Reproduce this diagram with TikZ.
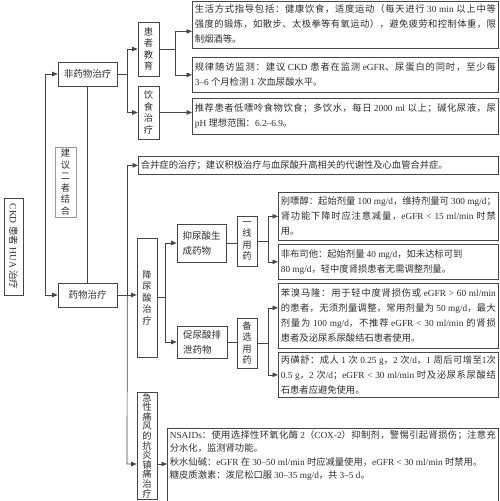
\documentclass[tikz,border=0pt]{standalone}
\usepackage{fontspec}
\setmainfont{Liberation Serif}
\newfontfamily\cjkfont{Noto Sans CJK SC}
\usetikzlibrary{arrows.meta}

\definecolor{linegray}{gray}{0.28}
\definecolor{inkgray}{gray}{0.18}

% Han characters go to the CJK font, everything else stays in Liberation Serif
\newXeTeXintercharclass\hanclass
\newcount\hancount
\def\hanrange#1#2{\hancount=#1\relax
  \loop\XeTeXcharclass\hancount=\hanclass
  \ifnum\hancount<#2\advance\hancount by 1 \repeat}
\hanrange{"3000}{"303F}
\hanrange{"4E00}{"9FFF}
\hanrange{"FF00}{"FFEF}
\XeTeXinterchartoks 0 \hanclass = {\cjkfont}
\XeTeXinterchartoks 4095 \hanclass = {\cjkfont}
\XeTeXinterchartoks \hanclass 0 = {\rmfamily}
\XeTeXinterchartoks 4095 0 = {\rmfamily}
\XeTeXinterchartoks \hanclass \hanclass = {\hskip 0pt plus 0.2em\relax}
\XeTeXinterchartokenstate=1

\begin{document}
\begin{tikzpicture}[x=1pt,y=-1pt,
  box/.style={draw=linegray,line width=0.7pt,text=inkgray},
  textbox/.style={box,anchor=north west,align=justify,inner xsep=2.5pt,inner ysep=2pt,
    font=\fontsize{9.3}{15}\selectfont,execute at begin node={\tolerance=9999\relax}},
  labelbox/.style={box,align=left,inner sep=2pt,font=\fontsize{9.5}{15}\selectfont},
  stackbox/.style={box,align=center,inner sep=1pt,font=\fontsize{9.3}{11.5}\selectfont},
  hintbox/.style={stackbox,draw=black!40,line width=0.5pt},
  link/.style={draw=linegray,line width=0.7pt},
  arr/.style={link,-{Triangle[length=5.5pt,width=4.5pt]}}]
\useasboundingbox (0,0) rectangle (500,501);
\clip (0,0) rectangle (500,501);

\node[stackbox,rotate=-90,minimum width=97pt,minimum height=19pt,
  font=\fontsize{9.5}{11}\selectfont] (root) at (13.5,246.5) {CKD 患者 HUA 治疗};
\node[hintbox,minimum width=21pt,minimum height=70pt] (hint) at (65.5,182) {建\\议\\二\\者\\结\\合};
\node[labelbox,minimum width=59pt,minimum height=24pt] (nondrug) at (87.5,74) {非药物治疗};
\node[labelbox,minimum width=59pt,minimum height=24pt] (drug) at (87.5,295) {药物治疗};

\node[stackbox,minimum width=21pt,minimum height=54pt] (edu) at (148.5,49) {患\\者\\教\\育};
\node[stackbox,minimum width=21pt,minimum height=53pt] (diet) at (148.5,112.5) {饮\\食\\治\\疗};
\node[textbox,text width=301pt,minimum height=47pt] (life) at (192,0.5)
  {生活方式指导包括：健康饮食，适度运动（每天进行 30 min 以上中等\linebreak
   强度的锻炼，如散步、太极拳等有氧运动），避免疲劳和控制体重，限\linebreak
   制烟酒等。};
\node[textbox,text width=301pt,minimum height=35pt] (follow) at (192,57)
  {规律随访监测：建议 CKD 患者在监测 eGFR、尿蛋白的同时，至少每\linebreak
   3–6 个月检测 1 次血尿酸水平。};
\node[textbox,text width=301pt,minimum height=36pt] (food) at (192,98)
  {推荐患者低嘌呤食物饮食；多饮水，每日 2000 ml 以上；碱化尿液，尿\linebreak
   pH 理想范围：6.2–6.9。};

\node[textbox,text width=355pt,minimum height=18pt] (comorb) at (138,156)
  {合并症的治疗；建议积极治疗与血尿酸升高相关的代谢性及心血管合并症。};
\node[stackbox,minimum width=20pt,minimum height=119pt] (ult) at (147,297.5) {降\\尿\\酸\\治\\疗};
\node[stackbox,anchor=north,minimum width=20pt,font=\fontsize{9.3}{9.6}\selectfont] (gout)
  at (147,392) {急\\性\\痛\\风\\的\\抗\\炎\\镇\\痛\\治\\疗};

\node[labelbox,minimum width=49pt,minimum height=38pt] (inhib) at (201.5,243) {抑尿酸生\\成药物};
\node[labelbox,minimum width=50pt,minimum height=32pt] (excr) at (202,342) {促尿酸排\\泄药物};
\node[stackbox,minimum width=20pt,minimum height=50pt] (first) at (247,241) {一\\线\\用\\药};
\node[stackbox,minimum width=20pt,minimum height=50pt] (second) at (247,343) {备\\选\\用\\药};

\node[textbox,text width=215pt,minimum height=48pt] (allo) at (278,192)
  {别嘌醇：起始剂量 100 mg/d，维持剂量可 300 mg/d；\linebreak
   肾功能下降时应注意减量，eGFR < 15 ml/min 时禁\linebreak
   用。};
\node[textbox,text width=215pt,minimum height=35pt] (febu) at (278,244)
  {非布司他：起始剂量 40 mg/d，如未达标可到\\
   80 mg/d，轻中度肾损患者无需调整剂量。};
\node[textbox,text width=215pt,minimum height=65pt] (benz) at (278,283)
  {苯溴马隆：用于轻中度肾损伤或 eGFR > 60 ml/min\linebreak
   的患者，无须剂量调整，常用剂量为 50 mg/d，最大\linebreak
   剂量为 100 mg/d，不推荐 eGFR < 30 ml/min 的肾损\linebreak
   患者及泌尿系尿酸结石患者使用。};
\node[textbox,text width=215pt,minimum height=45pt] (prob) at (278,352)
  {丙磺舒：成人 1 次 0.25 g，2 次/d，1 周后可增至1次\linebreak
   0.5 g，2 次/d；eGFR < 30 ml/min 时及泌尿系尿酸结\linebreak
   石患者应避免使用。};

\node[textbox,text width=326pt,text depth=75pt,font=\fontsize{9.3}{13.5}\selectfont] (nsaid) at (167,428)
  {NSAIDs：使用选择性环氧化酶 2（COX-2）抑制剂，警惕引起肾损伤；注意充\linebreak
   分水化，监测肾功能。\\
   秋水仙碱：eGFR 在 30–50 ml/min 时应减量使用，eGFR < 30 ml/min 时禁用。\\
   糖皮质激素：泼尼松口服 30–35 mg/d，共 3–5 d。};

\coordinate (busA) at (45,185);
\draw[arr] (busA |- drug) -- (drug);
\draw[arr] (busA |- drug) -- (busA |- nondrug) -- (nondrug);
\draw[link] (nondrug) -- (drug);

\draw[link] (nondrug.east) -- ++(10,0) coordinate (busB);
\draw[arr] (busB) |- (edu);
\draw[arr] (busB) |- (diet);
\draw[link] (edu.east) -- ++(16,0) coordinate (busC);
\draw[arr] (busC) |- ([yshift=-7pt]life.west);
\draw[arr] (busC) |- (follow);
\draw[arr] (diet) -- (diet -| food.west);

\draw[link] (drug.east) -- ++(10,0) coordinate (busD);
\coordinate (busE) at (127,464);
\draw[arr] (busD) |- (comorb);
\draw[arr] (busD) -- (busD -| ult.west);
\draw[arr] (busD) -- (busE) -- (busE -| gout.west);
\draw[arr] (busE -| gout.east) -- (busE -| nsaid.west);

\draw[link] (ult.east) -- ++(8,0) coordinate (busF);
\draw[arr] (busF) |- (inhib);
\draw[arr] (busF) |- (excr);
\draw[link] (inhib.east) -- (inhib.east -| first.west);
\draw[link] (excr.east) -- (excr.east -| second.west);

\draw[link] (first.east) -- ++(11,0) coordinate (busG);
\draw[arr] (busG) |- (allo);
\draw[arr] (busG) |- (febu);
\draw[link] (second.east) -- ++(11,0) coordinate (busH);
\draw[arr] (busH) |- ([yshift=8pt]benz.west);
\draw[arr] (busH) |- (prob);
\end{tikzpicture}
\end{document}
